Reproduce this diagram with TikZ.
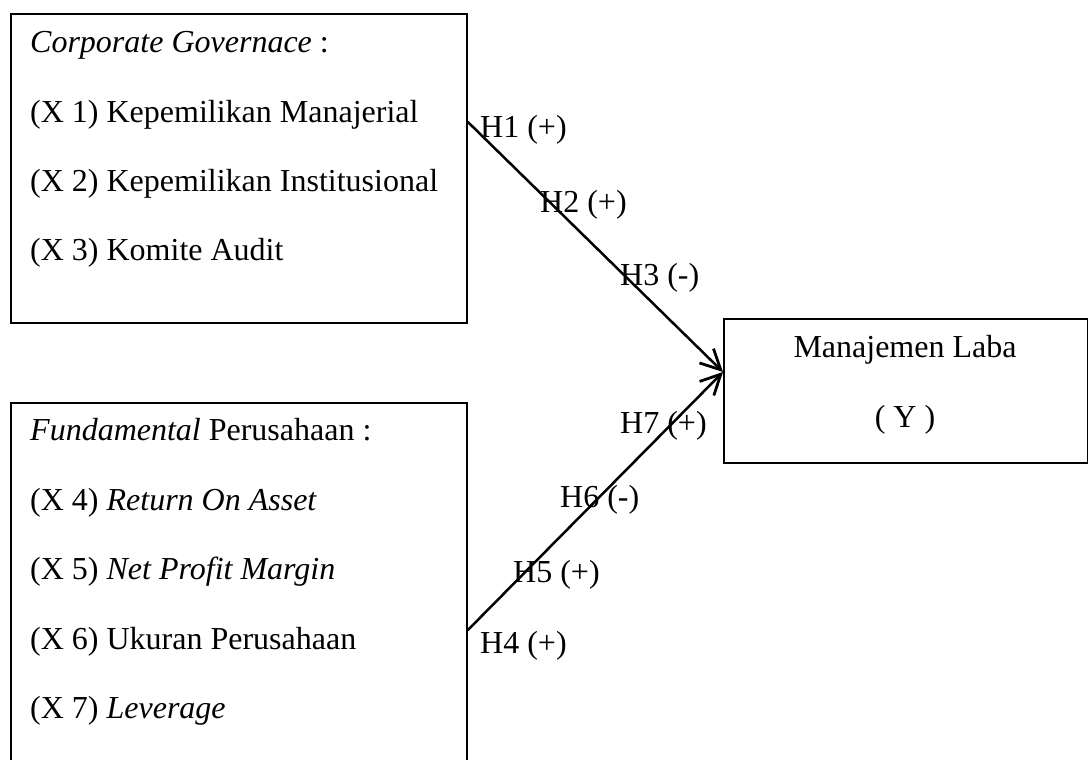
\documentclass[tikz,border=0pt]{standalone}
\usepackage{fontspec}
\setmainfont{Liberation Serif}
\usetikzlibrary{arrows.meta,calc}
\begin{document}
\begin{tikzpicture}[x=1pt,y=-1pt,
  box/.style={draw, line width=1.9pt, inner sep=0pt, anchor=north west},
  txt/.style={anchor=base west, inner sep=0pt, font=\fontsize{32}{38}\selectfont},
  ctxt/.style={anchor=base, inner sep=0pt, font=\fontsize{32}{38}\selectfont},
  arr/.style={line width=2.5pt, line cap=round, -{Straight Barb[length=20pt,width=20pt,line width=2.8pt]}}]
\clip (0,0) rectangle (1088,760);
\fill[white] (0,0) rectangle (1088,760);
% boxes
\node[box, minimum width=456pt, minimum height=309pt] (cg) at (10,13) {};
\node[box, minimum width=456pt, minimum height=420pt] (fp) at (10,402) {};
\node[box, minimum width=364pt, minimum height=144pt] (ml) at (723,318) {};
% box texts
\node[txt] (c0) at (30,53) {\textit{Corporate Governace} :};
\node[txt] (c1) at (30,122) {(X 1) Kepemilikan Manajerial};
\node[txt] (c2) at (30,191) {(X 2) Kepemilikan Institusional};
\node[txt] (c3) at (30,260) {(X 3) Komite Audit};
\node[txt] (f0) at (30,440) {\textit{Fundamental} Perusahaan :};
\node[txt] (f1) at (30,510) {(X 4) \textit{Return On Asset}};
\node[txt] (f2) at (30,579) {(X 5) \textit{Net Profit Margin}};
\node[txt] (f3) at (30,649) {(X 6) Ukuran Perusahaan};
\node[txt] (f4) at (30,718) {(X 7) \textit{Leverage}};
\node[ctxt] (m0) at (905,357) {Manajemen Laba};
\node[ctxt] (m1) at (905,427) {( Y )};
% connectors
\coordinate (s1) at ($(cg.north east)+(0,109)$);
\coordinate (s2) at ($(fp.north east)+(0,228)$);
\coordinate (e) at ($(ml.north west)+(0,54)$);
\draw[arr] (s1) -- (e);
\draw[arr] (s2) -- (e);
% labels
\node[txt] (h1) at (480,138) {H1 (+)};
\node[txt] (h2) at (540,212) {H2 (+)};
\node[txt] (h3) at (620,285) {H3 (-)};
\node[txt] (h7) at (620,433) {H7 (+)};
\node[txt] (h6) at (560,507) {H6 (-)};
\node[txt] (h5) at (513,582) {H5 (+)};
\node[txt] (h4) at (480,653) {H4 (+)};
\end{tikzpicture}
\end{document}
